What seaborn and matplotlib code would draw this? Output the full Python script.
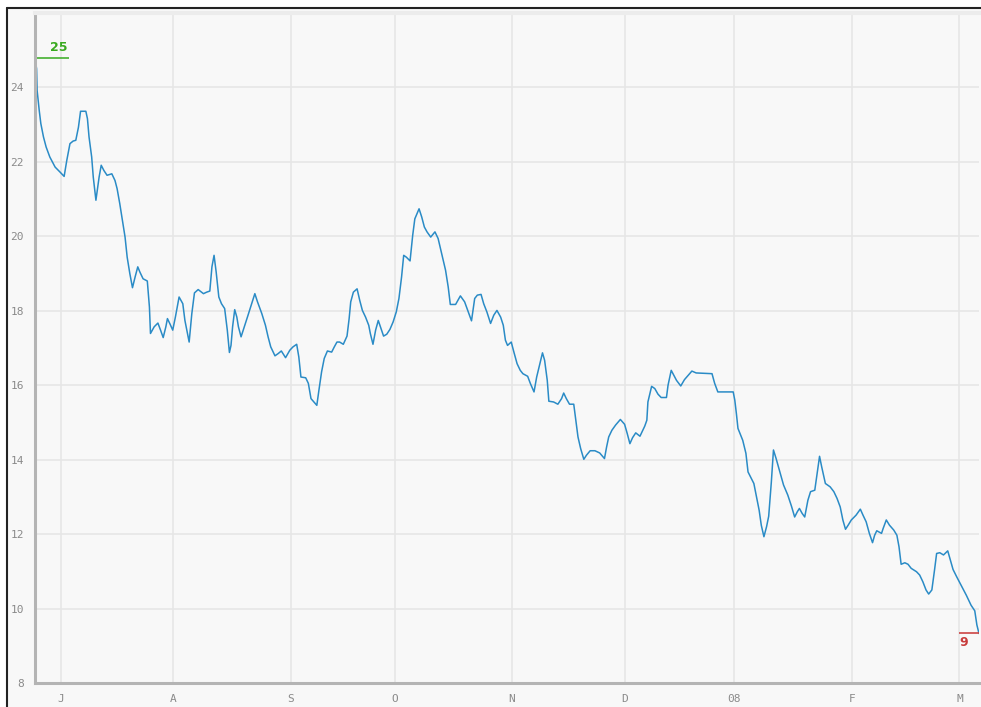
import matplotlib
matplotlib.use("Agg")
import matplotlib.pyplot as plt
from matplotlib.lines import Line2D
from matplotlib.patches import Rectangle
import numpy as np
import pandas as pd
import seaborn as sns

# session number (trading days from start) and price
session = [0.0, 0.3, 0.4, 0.8, 1.1, 1.6, 2.1, 2.8, 3.8, 4.7, 5.5, 6.0, 6.6, 7.2, 7.7, 8.2, 8.6, 9.6, 9.9,
           10.2, 10.7, 11.0, 11.5, 11.8, 12.1, 12.5, 13.0, 13.6, 14.5, 15.1, 15.5, 16.0, 16.5, 17.0, 17.4,
           17.9, 18.4, 18.9, 19.4, 19.8, 20.4, 21.2, 21.6, 21.8, 22.5, 23.2, 23.7, 24.2, 24.7, 25.0, 25.5,
           26.0, 26.5, 27.2, 27.9, 28.3, 29.1, 29.6, 30.1, 30.8, 31.8, 32.4, 33.0, 33.4, 33.8, 34.2, 34.7,
           35.2, 35.8, 36.3, 36.7, 37.0, 37.3, 37.7, 38.1, 38.4, 38.9, 39.4, 40.1, 40.8, 41.5, 42.0, 42.8,
           43.5, 44.0, 44.5, 45.3, 45.9, 46.5, 47.3, 48.1, 48.7, 49.4, 49.8, 50.2, 51.1, 51.6, 52.1, 53.2,
           53.6, 54.1, 54.6, 55.2, 56.0, 56.5, 57.0, 57.5, 58.2, 58.9, 59.3, 59.6, 60.1, 60.8, 61.3, 61.8,
           62.4, 63.0, 63.3, 63.8, 64.3, 64.8, 65.2, 65.8, 66.4, 67.0, 67.6, 68.2, 68.7, 69.2, 69.6, 70.1,
           70.8, 71.3, 71.7, 72.5, 73.0, 73.5, 74.0, 74.7, 75.5, 76.1, 76.4, 77.5, 78.0, 78.4, 79.4, 80.3,
           81.1, 81.8, 82.4, 83.0, 83.5, 84.2, 84.7, 85.3, 86.0, 86.6, 87.2, 87.9, 88.4, 88.8, 89.2, 89.9,
           90.4, 91.0, 91.6, 92.1, 93.0, 93.5, 94.2, 94.7, 95.3, 95.8, 96.2, 96.7, 97.0, 97.9, 98.7, 99.4,
           99.8, 100.3, 100.9, 101.7, 102.1, 102.5, 103.0, 103.6, 104.1, 104.8, 105.7, 106.6, 107.5, 107.9,
           108.3, 108.9, 109.6, 110.5, 111.3, 111.8, 112.3, 112.8, 113.4, 114.2, 115.1, 115.5, 115.7, 116.4,
           117.0, 117.6, 118.2, 119.2, 119.5, 120.1, 121.1, 121.9, 122.6, 123.5, 124.0, 124.8, 127.8, 128.3,
           128.9, 131.8, 132.1, 132.4, 132.7, 133.2, 133.6, 134.2, 134.6, 135.2, 135.7, 136.2, 136.7, 137.1,
           137.6, 138.1, 138.5, 139.0, 139.4, 139.9, 140.6, 141.3, 142.1, 142.8, 143.4, 143.9, 144.3, 144.8,
           145.3, 145.9, 146.4, 147.2, 147.6, 148.1, 148.5, 149.2, 150.1, 150.8, 151.4, 152.0, 152.5, 153.0,
           153.5, 154.1, 155.0, 155.8, 156.3, 156.9, 157.5, 158.1, 158.5, 158.9, 159.8, 160.1, 160.7, 161.3,
           162.1, 162.7, 163.1, 163.5, 164.2, 164.8, 165.4, 166.4, 167.0, 167.6, 168.2, 168.7, 169.3, 169.8,
           170.2, 170.8, 171.5, 172.3, 172.8, 173.3, 174.0, 174.8, 175.8, 176.7, 177.4, 177.8, 178.2]
price = [24.79, 24.50, 23.92, 23.38, 23.03, 22.67, 22.40, 22.13, 21.86, 21.73, 21.61, 22.04, 22.49, 22.56,
         22.58, 22.93, 23.36, 23.36, 23.16, 22.67, 22.13, 21.59, 20.97, 21.28, 21.59, 21.91, 21.77, 21.64,
         21.68, 21.50, 21.28, 20.88, 20.43, 19.98, 19.44, 19.00, 18.62, 18.91, 19.18, 19.04, 18.86, 18.80,
         18.10, 17.39, 17.57, 17.67, 17.48, 17.28, 17.57, 17.79, 17.64, 17.48, 17.83, 18.37, 18.19, 17.74,
         17.16, 17.92, 18.48, 18.57, 18.46, 18.50, 18.53, 19.18, 19.49, 19.04, 18.37, 18.19, 18.06, 17.48,
         16.88, 17.07, 17.57, 18.03, 17.83, 17.57, 17.30, 17.52, 17.83, 18.15, 18.46, 18.24, 17.93, 17.61,
         17.30, 17.03, 16.79, 16.85, 16.92, 16.74, 16.94, 17.03, 17.10, 16.76, 16.22, 16.20, 16.05, 15.64,
         15.46, 15.87, 16.36, 16.72, 16.92, 16.89, 17.03, 17.16, 17.16, 17.10, 17.32, 17.79, 18.24, 18.50,
         18.59, 18.28, 18.01, 17.83, 17.61, 17.39, 17.10, 17.48, 17.74, 17.57, 17.32, 17.37, 17.50, 17.70,
         17.97, 18.33, 18.91, 19.49, 19.44, 19.34, 20.03, 20.47, 20.74, 20.52, 20.25, 20.12, 19.98, 20.12,
         19.94, 19.76, 19.09, 18.64, 18.17, 18.17, 18.40, 18.24, 17.97, 17.73, 18.33, 18.42, 18.44, 18.19,
         17.97, 17.66, 17.88, 18.01, 17.83, 17.61, 17.21, 17.07, 17.16, 16.89, 16.58, 16.40, 16.31, 16.24,
         16.05, 15.82, 16.22, 16.58, 16.87, 16.67, 16.13, 15.57, 15.55, 15.49, 15.64, 15.79, 15.64, 15.49,
         15.49, 15.06, 14.61, 14.30, 14.01, 14.12, 14.24, 14.24, 14.18, 14.03, 14.34, 14.61, 14.79, 14.93,
         15.08, 14.95, 14.70, 14.43, 14.59, 14.72, 14.63, 14.90, 15.06, 15.55, 15.97, 15.91, 15.76, 15.67,
         15.67, 16.00, 16.40, 16.13, 15.98, 16.15, 16.30, 16.38, 16.33, 16.31, 16.05, 15.82, 15.82, 15.60,
         15.24, 14.84, 14.66, 14.52, 14.17, 13.67, 13.50, 13.36, 13.00, 12.64, 12.24, 11.93, 12.20, 12.48,
         13.40, 14.26, 14.03, 13.67, 13.32, 13.05, 12.75, 12.46, 12.60, 12.69, 12.56, 12.46, 12.91, 13.14,
         13.18, 13.58, 14.09, 13.81, 13.36, 13.27, 13.14, 12.96, 12.73, 12.38, 12.13, 12.24, 12.38, 12.51,
         12.67, 12.51, 12.33, 12.02, 11.77, 11.97, 12.09, 12.02, 12.15, 12.38, 12.24, 12.11, 11.97, 11.66,
         11.19, 11.23, 11.19, 11.08, 10.99, 10.90, 10.72, 10.50, 10.39, 10.50, 11.03, 11.48, 11.50, 11.44,
         11.55, 11.30, 11.05, 10.85, 10.63, 10.36, 10.09, 9.94, 9.56, 9.33]

# month ticks (session where each month starts)
month_ticks = [4.9, 26.0, 48.3, 67.9, 90.0, 111.3, 131.9, 154.2, 174.5]
month_labels = ["J", "A", "S", "O", "N", "D", "08", "F", "M"]
y_ticks = [8, 10, 12, 14, 16, 18, 20, 22, 24]

df = pd.DataFrame({"session": session, "price": price})

sns.set_style("whitegrid")
plt.rcParams['font.family'] = ['DejaVu Sans Mono', 'DejaVu Sans']

W, H = 981, 707
fig = plt.figure(figsize=(W / 100, H / 100), dpi=100)
fig.patch.set_facecolor("white")

# panel background and black frame top/left
fig.add_artist(Rectangle((8 / W, 0), 1, (H - 9) / H, transform=fig.transFigure,
                         facecolor="#f8f8f8", edgecolor="none", zorder=0))
fig.add_artist(Line2D([7 / W, 1], [(H - 8) / H, (H - 8) / H], transform=fig.transFigure,
                      color="#222222", linewidth=1.5))
fig.add_artist(Line2D([7 / W, 7 / W], [0, (H - 8) / H], transform=fig.transFigure,
                      color="#222222", linewidth=1.5))

ax = fig.add_axes([35 / W, (H - 683) / H, (979 - 35) / W, (683 - 13) / H])
ax.set_facecolor("#f8f8f8")

sns.lineplot(data=df, x="session", y="price", ax=ax, color="#2a8bc6",
             linewidth=1.1, sort=False, estimator=None)

ax.set_xlim(0, 178.2)
ax.set_ylim(8, 26)
ax.set_xticks(month_ticks)
ax.set_xticklabels(month_labels)
ax.set_yticks(y_ticks)
ax.set_xlabel("")
ax.set_ylabel("")

ax.grid(True, color="#e6e6e6", linewidth=1.2)
ax.tick_params(axis="both", length=0, labelsize=8, labelcolor="#8a8a8a")
ax.tick_params(axis="y", pad=8)
ax.tick_params(axis="x", pad=8)

for side in ["right"]:
    ax.spines[side].set_visible(False)
ax.spines["top"].set_color("#ececec")
ax.spines["top"].set_linewidth(3)
ax.spines["left"].set_color("#b4b4b4")
ax.spines["left"].set_linewidth(2.2)
ax.spines["bottom"].set_color("#b4b4b4")
ax.spines["bottom"].set_linewidth(2.2)

# max / min markers
imax = int(np.argmax(price))
imin = int(np.argmin(price))
xmax, vmax = session[imax], price[imax]
xmin, vmin = session[imin], price[imin]

ax.plot([xmax, xmax + 6.5], [vmax, vmax], color="#44b030", linewidth=1.2, solid_capstyle="butt")
ax.annotate(f"{vmax:.0f}", (xmax + 4.4, vmax), xytext=(0, 3), textcoords="offset points",
            ha="center", va="bottom", color="#3aaa20", fontsize=9, fontweight="bold",
            family="DejaVu Sans")

ax.plot([xmin - 3.7, xmin], [vmin, vmin], color="#cc4444", linewidth=1.2, solid_capstyle="butt")
ax.annotate(f"{vmin:.0f}", (xmin - 3.7, vmin), xytext=(0, -2), textcoords="offset points",
            ha="left", va="top", color="#c83c3c", fontsize=9, fontweight="bold",
            family="DejaVu Sans")

fig.savefig("out.png", dpi=100)
